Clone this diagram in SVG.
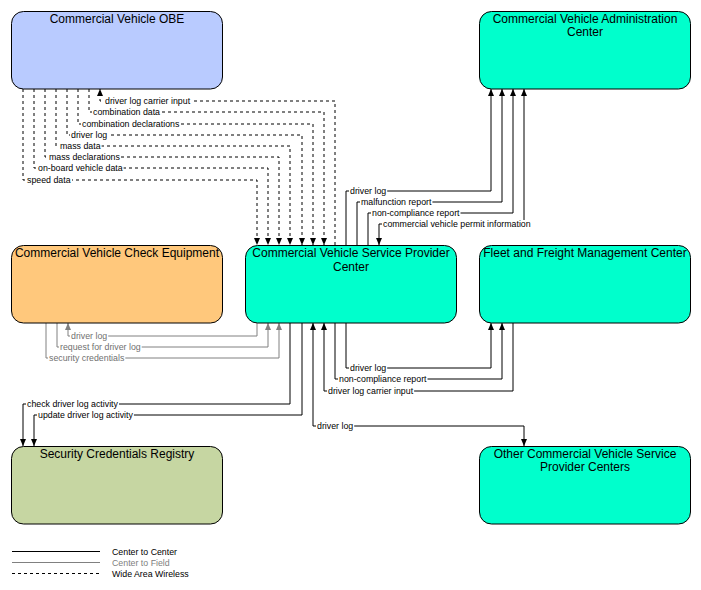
<svg xmlns="http://www.w3.org/2000/svg" width="701" height="590" viewBox="0 0 701 590">
<style>
.node{stroke:#000;stroke-width:1}
.title{font-family:"Liberation Sans",Arial,sans-serif;font-size:12px;fill:#000;text-anchor:middle}
.lbl{font-family:"Liberation Sans",Arial,sans-serif;font-size:8.8px;fill:#000}
.lblf{font-family:"Liberation Sans",Arial,sans-serif;font-size:8.8px;fill:#707070}
.bg{fill:#fff;stroke:none}
.cc{fill:none;stroke:#000;stroke-width:1}
.cf{fill:none;stroke:#808080;stroke-width:1}
.ww{fill:none;stroke:#000;stroke-width:1;stroke-dasharray:3,3}
.leg{font-family:"Liberation Sans",Arial,sans-serif;font-size:8.8px;fill:#000}
</style>
<defs>
<marker id="ab" markerUnits="userSpaceOnUse" markerWidth="8" markerHeight="8" viewBox="0 0 8 8" refX="7" refY="4" orient="auto-start-reverse"><path d="M0,1 L7,4 L0,7 z" fill="#000"/></marker>
<marker id="ag" markerUnits="userSpaceOnUse" markerWidth="8" markerHeight="8" viewBox="0 0 8 8" refX="7" refY="4" orient="auto-start-reverse"><path d="M0,1 L7,4 L0,7 z" fill="#808080"/></marker>
</defs>
<rect width="701" height="590" fill="#fff"/>
<g id="connectors">
<path class="ww" marker-end="url(#ab)" d="M23,89 V180 H257 V245"/>
<path class="ww" marker-end="url(#ab)" d="M34,89 V168 H268 V245"/>
<path class="ww" marker-end="url(#ab)" d="M45,89 V157 H279 V245"/>
<path class="ww" marker-end="url(#ab)" d="M56,89 V146 H290 V245"/>
<path class="ww" marker-end="url(#ab)" d="M67,89 V135 H302 V245"/>
<path class="ww" marker-end="url(#ab)" d="M78,89 V124 H313 V245"/>
<path class="ww" marker-end="url(#ab)" d="M89,89 V112 H324 V245"/>
<path class="ww" marker-end="url(#ab)" d="M335,245 V101 H100 V89"/>
<path class="cc" marker-end="url(#ab)" d="M346,245 V191 H491 V89"/>
<path class="cc" marker-end="url(#ab)" d="M357,245 V202 H502 V89"/>
<path class="cc" marker-end="url(#ab)" d="M368,245 V213 H513 V89"/>
<path class="cc" marker-start="url(#ab)" marker-end="url(#ab)" d="M379,245 V224 H524 V89"/>
<path class="cf" marker-end="url(#ag)" d="M257,323 V336 H68 V323"/>
<path class="cf" marker-end="url(#ag)" d="M57,323 V347 H268 V323"/>
<path class="cf" marker-end="url(#ag)" d="M46,323 V358 H279 V323"/>
<path class="cc" marker-end="url(#ab)" d="M346,323 V368 H491 V323"/>
<path class="cc" marker-end="url(#ab)" d="M335,323 V379 H502 V323"/>
<path class="cc" marker-end="url(#ab)" d="M513,323 V391 H324 V323"/>
<path class="cc" marker-end="url(#ab)" d="M290,323 V404 H23 V446"/>
<path class="cc" marker-end="url(#ab)" d="M302,323 V415 H34 V446"/>
<path class="cc" marker-start="url(#ab)" marker-end="url(#ab)" d="M313,323 V426 H524 V446"/>
<rect class="bg" x="26" y="176" width="46" height="8"/>
<rect class="bg" x="37" y="164" width="86.6" height="8"/>
<rect class="bg" x="48" y="153" width="72.9" height="8"/>
<rect class="bg" x="59" y="142" width="42.6" height="8"/>
<rect class="bg" x="70" y="131" width="38.2" height="8"/>
<rect class="bg" x="81" y="120" width="99.3" height="8"/>
<rect class="bg" x="92" y="108" width="69" height="8"/>
<rect class="bg" x="104" y="97" width="87.1" height="8"/>
<rect class="bg" x="349" y="187" width="38.2" height="8"/>
<rect class="bg" x="360" y="198" width="72.4" height="8"/>
<rect class="bg" x="371" y="209" width="89.5" height="8"/>
<rect class="bg" x="382" y="220" width="149.7" height="8"/>
<rect class="bg" x="70" y="332" width="38.2" height="8"/>
<rect class="bg" x="59" y="343" width="82.7" height="8"/>
<rect class="bg" x="48" y="354" width="77.3" height="8"/>
<rect class="bg" x="349" y="364" width="38.2" height="8"/>
<rect class="bg" x="338" y="375" width="89.5" height="8"/>
<rect class="bg" x="327" y="387" width="87.1" height="8"/>
<rect class="bg" x="26" y="400" width="93" height="8"/>
<rect class="bg" x="37" y="411" width="96.9" height="8"/>
<rect class="bg" x="316" y="422" width="38.2" height="8"/>
<text class="lbl" x="27" y="183">speed data</text>
<text class="lbl" x="38" y="171">on-board vehicle data</text>
<text class="lbl" x="49" y="160">mass declarations</text>
<text class="lbl" x="60" y="149">mass data</text>
<text class="lbl" x="71" y="138">driver log</text>
<text class="lbl" x="82" y="127">combination declarations</text>
<text class="lbl" x="93" y="115">combination data</text>
<text class="lbl" x="105" y="104">driver log carrier input</text>
<text class="lbl" x="350" y="194">driver log</text>
<text class="lbl" x="361" y="205">malfunction report</text>
<text class="lbl" x="372" y="216">non-compliance report</text>
<text class="lbl" x="383" y="227">commercial vehicle permit information</text>
<text class="lblf" x="71" y="339">driver log</text>
<text class="lblf" x="60" y="350">request for driver log</text>
<text class="lblf" x="49" y="361">security credentials</text>
<text class="lbl" x="350" y="371">driver log</text>
<text class="lbl" x="339" y="382">non-compliance report</text>
<text class="lbl" x="328" y="394">driver log carrier input</text>
<text class="lbl" x="27" y="407">check driver log activity</text>
<text class="lbl" x="38" y="418">update driver log activity</text>
<text class="lbl" x="317" y="429">driver log</text>
</g>
<g id="obe"><rect class="node" x="11.5" y="11.5" width="211" height="77.5" rx="12" fill="#b9cbff"/><text class="title" x="117" y="23">Commercial Vehicle OBE</text></g>
<g id="cvac"><rect class="node" x="479.5" y="11.5" width="211" height="77.5" rx="12" fill="#00ffcc"/><text class="title" x="585" y="23">Commercial Vehicle Administration</text><text class="title" x="585" y="36">Center</text></g>
<g id="cvce"><rect class="node" x="11.5" y="245.5" width="211" height="77.5" rx="12" fill="#ffc87c"/><text class="title" x="117" y="257">Commercial Vehicle Check Equipment</text></g>
<g id="cvspc"><rect class="node" x="245.5" y="245.5" width="211" height="77.5" rx="12" fill="#00ffcc"/><text class="title" x="351" y="257">Commercial Vehicle Service Provider</text><text class="title" x="351" y="270.5">Center</text></g>
<g id="ffmc"><rect class="node" x="479.5" y="245.5" width="211" height="77.5" rx="12" fill="#00ffcc"/><text class="title" x="585" y="257">Fleet and Freight Management Center</text></g>
<g id="scr"><rect class="node" x="11.5" y="446.5" width="211" height="77.5" rx="12" fill="#c6d6a2"/><text class="title" x="117" y="458">Security Credentials Registry</text></g>
<g id="ocvspc"><rect class="node" x="479.5" y="446.5" width="211" height="77.5" rx="12" fill="#00ffcc"/><text class="title" x="585" y="458">Other Commercial Vehicle Service</text><text class="title" x="585" y="471">Provider Centers</text></g>
<g id="legend">
<line x1="12" y1="551.5" x2="100" y2="551.5" stroke="#000"/>
<line x1="12" y1="562.5" x2="100" y2="562.5" stroke="#808080"/>
<line x1="12" y1="573.5" x2="100" y2="573.5" stroke="#000" stroke-dasharray="3,3"/>
<text class="leg" x="112" y="555">Center to Center</text>
<text class="leg" x="112" y="566" style="fill:#808080">Center to Field</text>
<text class="leg" x="112" y="577">Wide Area Wireless</text>
</g>
</svg>
